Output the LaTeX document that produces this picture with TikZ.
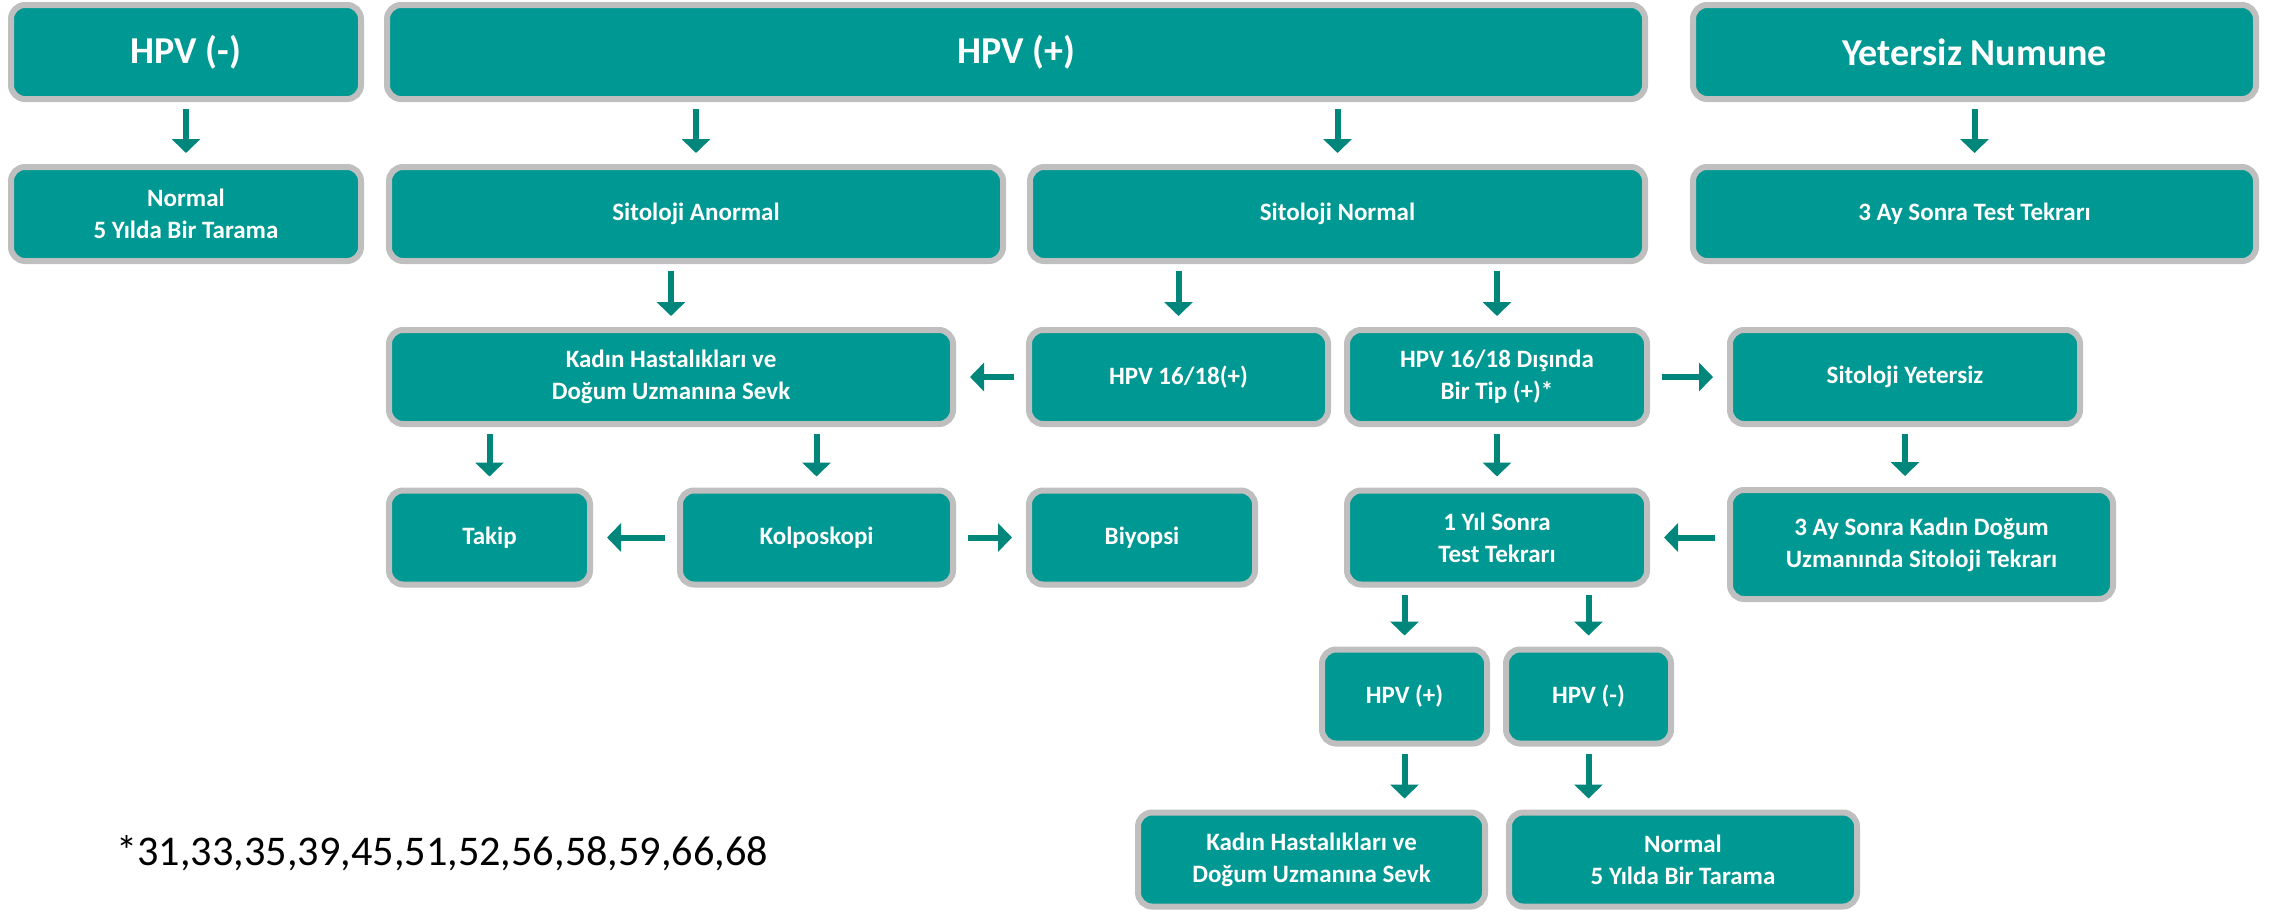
\documentclass[tikz,border=0pt]{standalone}
\usepackage{fontspec}
\setmainfont{Carlito}
\usetikzlibrary{arrows.meta}

\definecolor{boxteal}{RGB}{0,152,146}
\definecolor{boxgray}{RGB}{191,191,191}
\definecolor{arrowteal}{RGB}{0,134,122}

\tikzset{
  box/.style={draw=boxgray,line width=6pt,fill=boxteal,rounded corners=14pt,text=white,
    font=\bfseries\fontsize{25}{32}\selectfont,align=center,inner sep=0pt,minimum height=94pt},
  bigbox/.style={box,font=\bfseries\fontsize{38}{46}\selectfont},
  arr/.style={-{Triangle[width=28pt,length=14pt]},line width=6pt,draw=arrowteal,shorten <=7pt,shorten >=11pt},
  harr/.style={arr,shorten <=12pt,shorten >=14pt}
}

\begin{document}
\begin{tikzpicture}[x=1pt,y=-1pt]
        \useasboundingbox (0,0) rectangle (2285,911);

        \node [bigbox,minimum width=350pt] at (186,52) (hpvneg){HPV (-)};
        \node [bigbox,minimum width=1258pt] at (1016,52) (hpvpos){HPV (+)};
        \node [bigbox,minimum width=563pt] at (1974.5,52) (yetersiz){Yetersiz Numune};

        \node [box,minimum width=350pt] at (186,214) (normala){Normal\\5 Yılda Bir Tarama};
        \node [box,minimum width=614pt] at (696,214) (anormal){Sitoloji Anormal};
        \node [box,minimum width=615pt] at (1337.5,214) (sitnormal){Sitoloji Normal};
        \node [box,minimum width=563pt] at (1974.5,214) (aytest){3 Ay Sonra Test Tekrarı};

        \node [box,minimum width=564pt] at (671,377) (kadina){Kadın Hastalıkları ve\\Doğum Uzmanına Sevk};
        \node [box,minimum width=299pt] at (1178.5,377) (hpvonalti){HPV 16/18(+)};
        \node [box,minimum width=300pt] at (1497,377) (disinda){HPV 16/18 Dışında\\Bir Tip (+)*};
        \node [box,minimum width=350pt] at (1905,377) (sityet){Sitoloji Yetersiz};

        \node [box,minimum width=201pt] at (489.5,537.5) (takip){Takip};
        \node [box,minimum width=273pt] at (816.5,537.5) (kolpo){Kolposkopi};
        \node [box,minimum width=226pt] at (1142,537.5) (biyopsi){Biyopsi};
        \node [box,minimum width=300pt] at (1497,537.5) (biryil){1 Yıl Sonra\\Test Tekrarı};
        \node [box,minimum width=383pt,minimum height=109pt] at (1921.5,544.5) (aykadin){3 Ay Sonra Kadın Doğum\\Uzmanında Sitoloji Tekrarı};

        \node [box,minimum width=165pt] at (1404.5,696.5) (hpvposb){HPV (+)};
        \node [box,minimum width=165pt] at (1588.5,696.5) (hpvnegb){HPV (-)};

        \node [box,minimum width=347pt] at (1311.5,859.5) (kadinb){Kadın Hastalıkları ve\\Doğum Uzmanına Sevk};
        \node [box,minimum width=348pt] at (1683,859.5) (normalb){Normal\\5 Yılda Bir Tarama};

        \node [anchor=base west,inner sep=0pt,font=\fontsize{42.3}{50}\selectfont] at (116,865) (note){*31,33,35,39,45,51,52,56,58,59,66,68};

        \draw [arr] (hpvneg) -- (normala);
        \draw [arr] (hpvpos.south -| anormal) -- (anormal.north);
        \draw [arr] (hpvpos.south -| sitnormal) -- (sitnormal.north);
        \draw [arr] (yetersiz) -- (aytest);
        \draw [arr] (anormal.south -| kadina) -- (kadina.north);
        \draw [arr] (sitnormal.south -| hpvonalti) -- (hpvonalti.north);
        \draw [arr] (sitnormal.south -| disinda) -- (disinda.north);
        \draw [arr] (kadina.south -| takip) -- (takip.north);
        \draw [arr] (kadina.south -| kolpo) -- (kolpo.north);
        \draw [arr] (disinda) -- (biryil);
        \draw [arr] (sityet.south) -- (sityet.south |- aykadin.north);
        \draw [arr] (biryil.south -| hpvposb) -- (hpvposb.north);
        \draw [arr] (biryil.south -| hpvnegb) -- (hpvnegb.north);
        \draw [arr] (hpvposb.south) -- (hpvposb.south |- kadinb.north);
        \draw [arr] (hpvnegb.south) -- (hpvnegb.south |- normalb.north);

        \draw [harr] (hpvonalti) -- (kadina);
        \draw [harr] (disinda) -- (sityet);
        \draw [harr] (kolpo) -- (takip);
        \draw [harr] (kolpo) -- (biyopsi);
        \draw [harr] (aykadin.west |- biryil) -- (biryil.east);
      \end{tikzpicture}
\end{document}
